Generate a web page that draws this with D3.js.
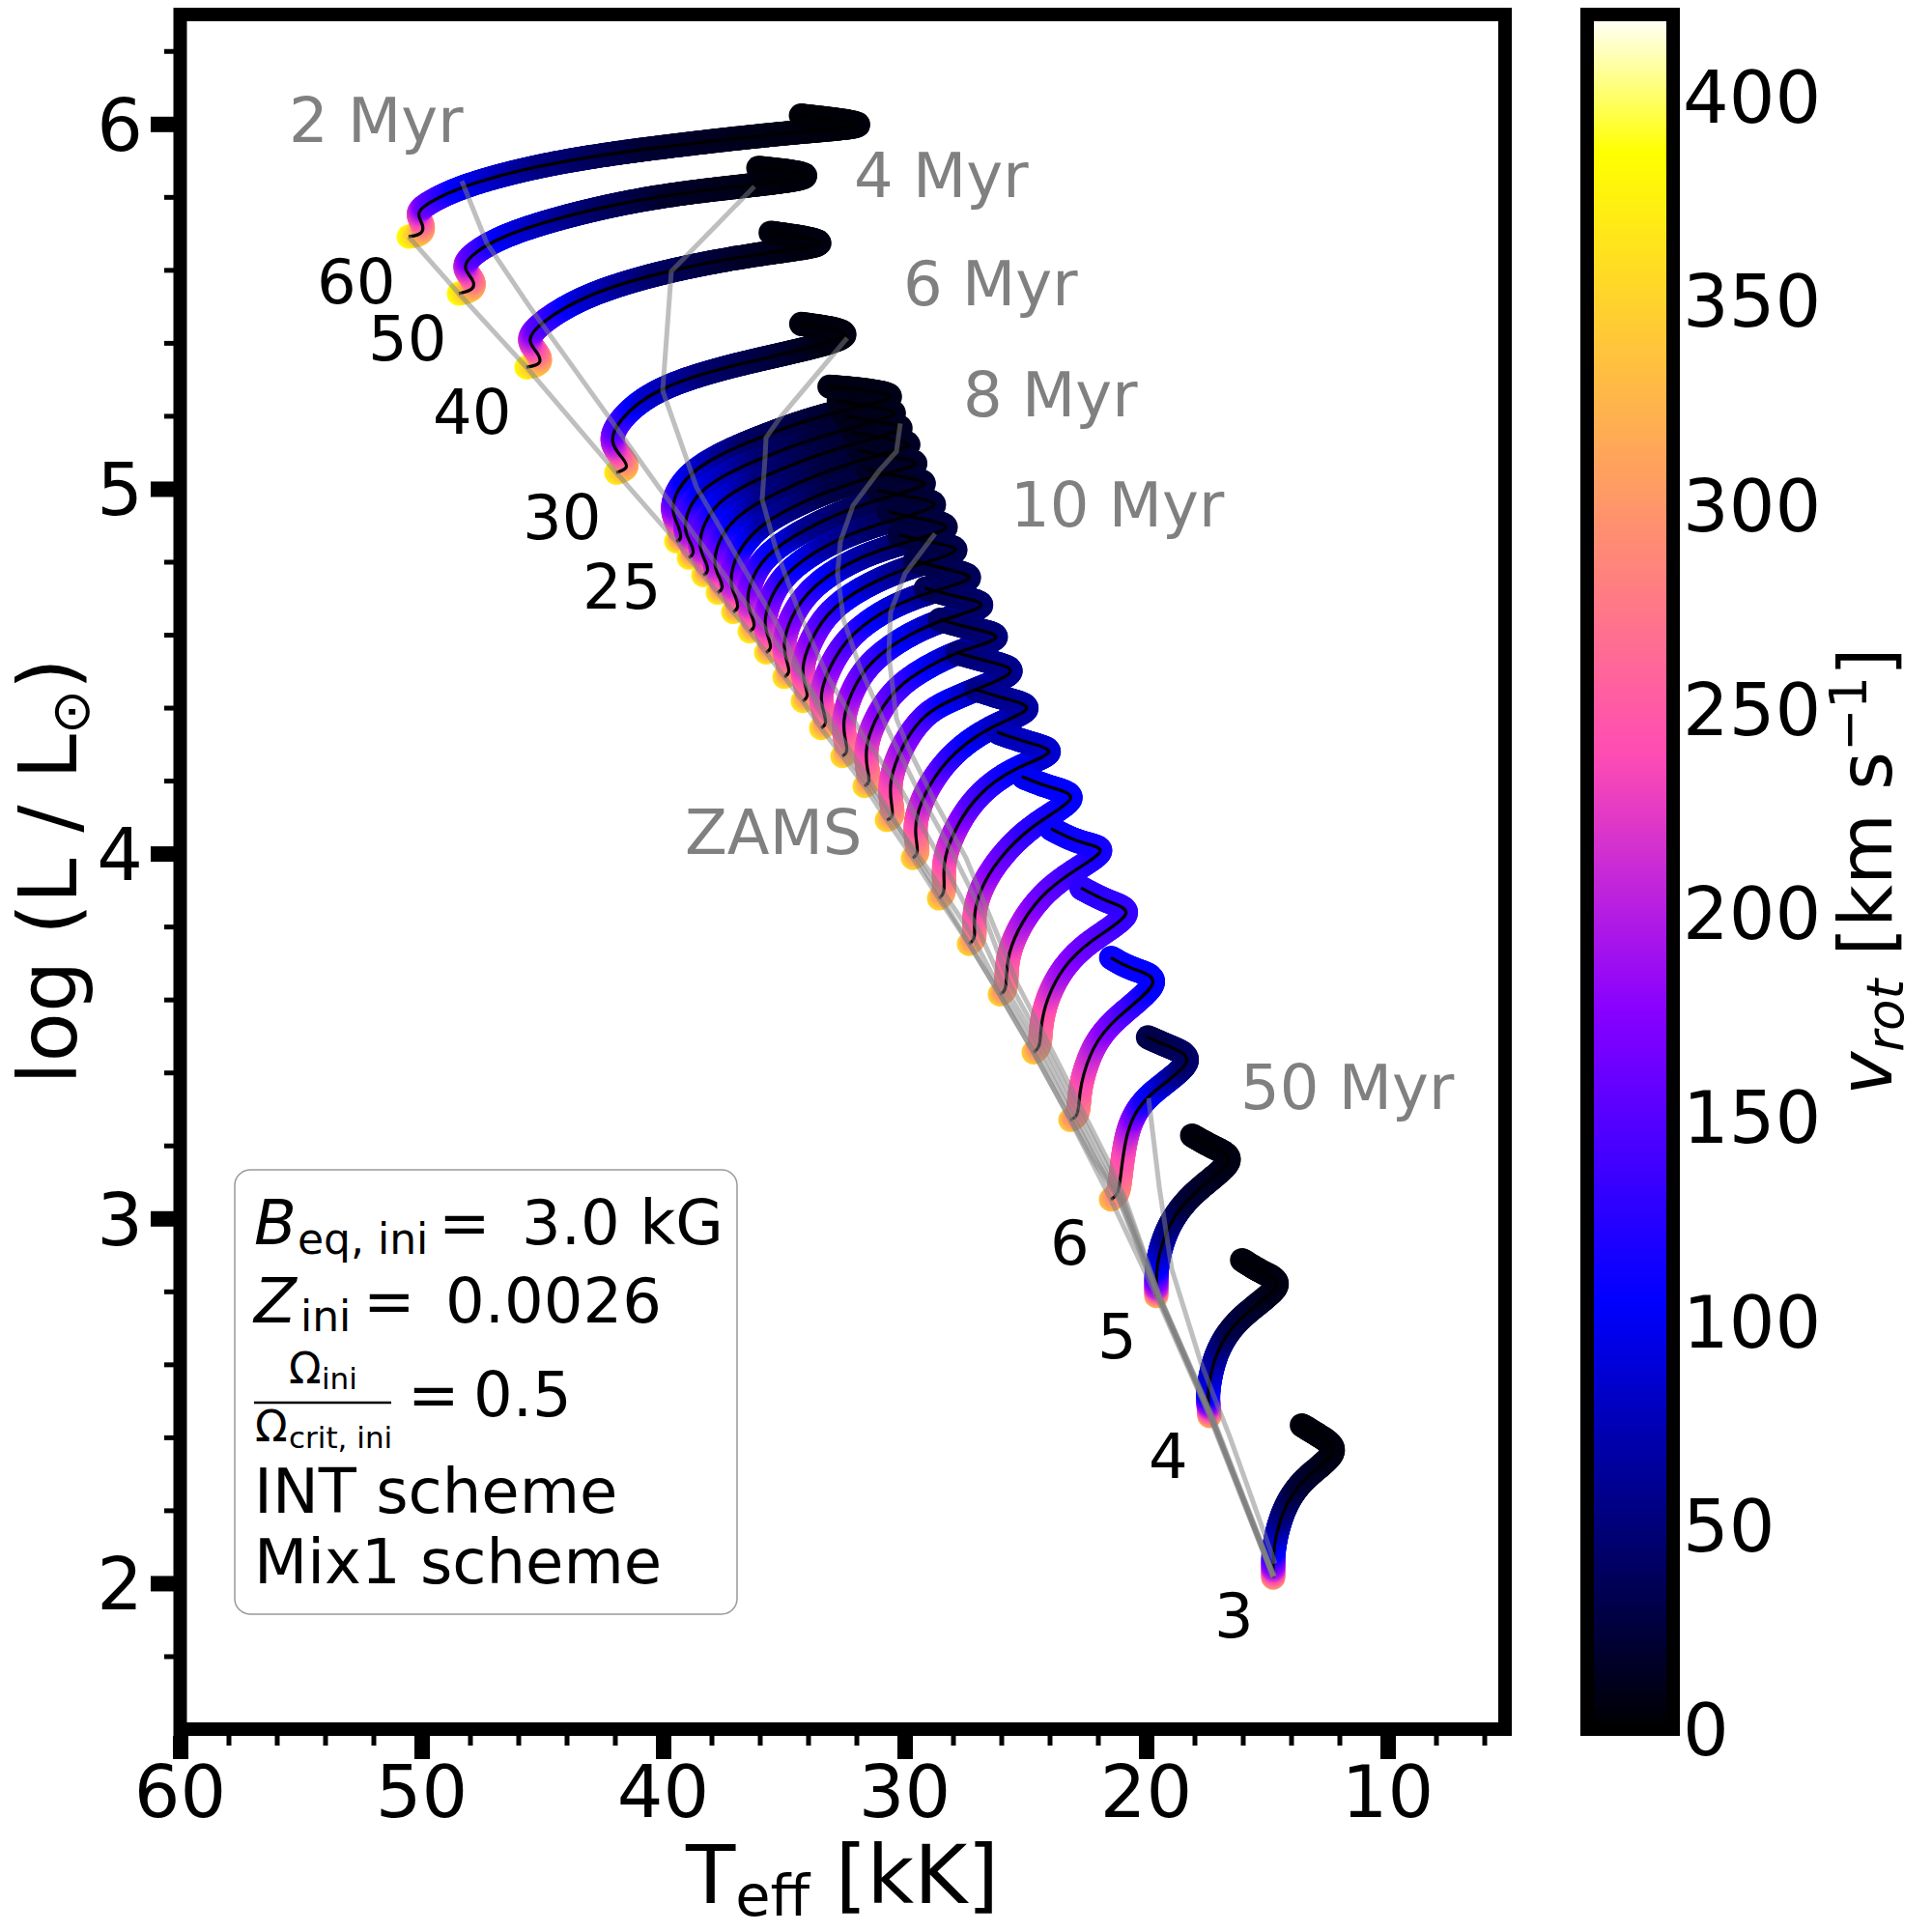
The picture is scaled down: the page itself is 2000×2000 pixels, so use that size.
<!DOCTYPE html>
<html>
<head>
<meta charset="utf-8">
<script src="https://d3js.org/d3.v7.min.js"></script>
<style>
  body { margin: 0; background: #fff; }
  text { font-family: "DejaVu Sans"; }
</style>
</head>
<body>
<div id="chart"></div>
<script>
// evolutionary tracks: teff [kK], log L, vrot [km/s]
const teff60 = [50.54,49.98,49.90,50.24,49.86,48.34,44.50,39.42,34.30,30.72,34.30];
const logL60 = [5.691,5.697,5.721,5.755,5.779,5.832,5.898,5.943,5.980,5.996,6.023];
const vrot60 = [385,335,290,225,160,105,55,22,10,5,3];
const teff50 = [48.46,47.82,47.82,48.34,47.94,46.30,41.94,38.14,32.70,36.10];
const logL50 = [5.535,5.545,5.572,5.606,5.644,5.707,5.784,5.821,5.856,5.880];
const vrot50 = [385,330,285,220,155,100,45,18,6,4];
const teff40 = [45.66,45.02,45.14,45.66,45.26,43.22,39.42,35.58,32.50,35.58];
const logL40 = [5.333,5.341,5.370,5.405,5.447,5.535,5.606,5.649,5.673,5.702];
const vrot40 = [380,330,280,215,155,90,42,18,7,5];
const teff30 = [41.94,41.38,41.70,42.22,41.94,40.42,36.86,31.10,34.30];
const logL30 = [5.044,5.057,5.086,5.126,5.182,5.275,5.346,5.423,5.452];
const vrot30 = [370,325,275,210,150,90,45,8,5];
const teff25 = [39.46,39.22,39.34,39.62,39.58,39.06,37.86,35.98,33.86,31.74,30.06,31.66,33.14];
const logL25 = [4.856,4.861,4.896,4.930,4.975,5.033,5.089,5.142,5.193,5.227,5.254,5.272,5.280];
const vrot25 = [375,325,270,205,155,105,75,42,28,16,10,9,8];
const teff24 = [38.94,38.70,38.82,39.14,39.02,38.26,35.46,32.66,29.70,31.46,32.78];
const logL24 = [4.811,4.821,4.848,4.882,4.943,5.015,5.100,5.161,5.208,5.224,5.243];
const vrot24 = [372,325,270,205,155,100,48,25,12,10,9];
const teff23 = [38.34,38.10,38.22,38.54,38.38,37.66,35.46,32.46,29.46,31.06,32.50];
const logL23 = [4.763,4.773,4.800,4.837,4.900,4.975,5.047,5.121,5.166,5.182,5.200];
const vrot23 = [372,325,272,210,160,105,52,26,14,12,10];
const teff22 = [37.74,37.50,37.62,37.94,37.74,37.06,35.46,32.26,29.10,30.78,32.14];
const logL22 = [4.715,4.726,4.752,4.789,4.856,4.922,4.988,5.076,5.121,5.137,5.155];
const vrot22 = [370,325,275,215,165,110,58,26,16,14,12];
const teff21 = [37.10,36.86,36.98,37.26,37.06,36.46,35.46,32.26,28.78,30.46,31.90];
const logL21 = [4.662,4.673,4.702,4.739,4.808,4.869,4.927,5.023,5.068,5.086,5.105];
const vrot21 = [370,325,275,215,170,115,72,30,19,16,14];
const teff20 = [36.42,36.18,36.30,36.58,36.34,35.66,33.46,31.26,28.50,30.18,31.54];
const logL20 = [4.609,4.620,4.649,4.689,4.757,4.829,4.914,4.970,5.015,5.033,5.052];
const vrot20 = [370,325,275,220,170,120,60,38,22,18,16];
const teff19 = [35.74,35.50,35.62,35.86,35.58,34.78,32.66,30.66,28.10,29.78,31.14];
const logL19 = [4.551,4.561,4.590,4.630,4.704,4.784,4.869,4.912,4.957,4.978,4.996];
const vrot19 = [368,322,275,225,175,125,68,44,25,22,20];
const teff18 = [34.98,34.74,34.86,35.06,34.78,33.86,31.86,29.86,27.66,29.34,30.70];
const logL18 = [4.484,4.495,4.524,4.569,4.643,4.736,4.816,4.856,4.896,4.917,4.938];
const vrot18 = [365,320,280,235,185,135,80,50,28,25,23];
const teff17 = [34.22,33.98,34.10,34.30,33.94,33.06,31.06,29.26,27.30,28.94,30.26];
const logL17 = [4.418,4.429,4.458,4.505,4.582,4.678,4.755,4.797,4.834,4.853,4.874];
const vrot17 = [365,320,280,235,190,140,85,55,32,28,26];
const teff16 = [33.46,33.22,33.34,33.54,33.14,32.26,30.46,28.66,26.78,28.26,29.58];
const logL16 = [4.344,4.354,4.386,4.431,4.511,4.604,4.683,4.723,4.757,4.779,4.803];
const vrot16 = [362,320,280,240,190,145,95,65,38,34,30];
const teff15 = [32.58,32.34,32.46,32.58,32.26,31.46,29.66,28.06,26.26,27.86,29.18];
const logL15 = [4.267,4.277,4.312,4.360,4.439,4.529,4.609,4.649,4.683,4.704,4.728];
const vrot15 = [360,318,280,240,195,150,105,75,45,40,36];
const teff14 = [31.66,31.42,31.54,31.66,31.18,30.26,28.38,27.26,25.70,27.26,28.54];
const logL14 = [4.185,4.195,4.227,4.291,4.378,4.466,4.537,4.564,4.596,4.617,4.641];
const vrot14 = [358,318,280,240,195,150,100,75,52,46,42];
const teff13 = [30.74,30.46,30.54,30.66,30.18,29.18,27.98,26.86,25.06,26.58,27.86];
const logL13 = [4.092,4.100,4.134,4.193,4.291,4.386,4.424,4.455,4.503,4.527,4.551];
const vrot13 = [355,315,280,245,200,150,110,85,60,55,50];
const teff12 = [29.66,29.42,29.54,29.58,29.06,27.98,26.38,24.38,25.86,27.06];
const logL12 = [3.988,3.999,4.041,4.094,4.185,4.280,4.352,4.400,4.424,4.450];
const vrot12 = [352,315,280,245,195,135,95,68,62,58];
const teff11 = [28.58,28.34,28.38,28.38,27.86,26.94,25.46,23.46,24.94,26.18];
const logL11 = [3.877,3.890,3.935,3.988,4.078,4.166,4.237,4.280,4.304,4.333];
const vrot11 = [350,312,280,245,200,150,115,88,80,76];
const teff10 = [27.34,27.10,27.10,27.14,26.78,25.86,24.54,22.58,23.98,25.14];
const logL10 = [3.752,3.763,3.795,3.840,3.919,4.007,4.087,4.158,4.180,4.211];
const vrot10 = [350,310,280,250,205,165,130,108,104,100];
const teff9 = [26.06,25.82,25.78,25.74,25.18,24.14,22.78,21.46,22.78,23.94];
const logL9 = [3.614,3.622,3.662,3.723,3.813,3.901,3.962,4.015,4.028,4.068];
const vrot9 = [348,308,275,250,205,165,140,118,114,110];
const teff8 = [24.66,24.38,24.38,24.14,23.46,22.38,20.30,21.58,22.70];
const logL8 = [3.455,3.469,3.521,3.601,3.689,3.760,3.842,3.866,3.906];
const vrot8 = [345,300,265,240,195,165,135,130,128];
const teff7 = [23.14,22.86,22.78,22.74,22.26,21.34,19.10,20.66,21.46];
const logL7 = [3.270,3.278,3.310,3.363,3.469,3.548,3.657,3.683,3.715];
const vrot7 = [340,300,280,255,215,175,105,108,110];
const teff6 = [21.46,21.14,21.06,20.86,20.54,19.86,17.78,19.06,19.98];
const logL6 = [3.052,3.065,3.118,3.219,3.283,3.344,3.437,3.471,3.498];
const vrot6 = [330,295,270,230,190,120,45,38,30];
const teff5 = [19.58,19.58,19.58,19.18,18.14,16.10,17.18,18.14];
const logL5 = [2.787,2.813,2.872,2.975,3.071,3.163,3.192,3.229];
const vrot5 = [320,210,110,60,25,10,6,5];
const teff4 = [17.38,17.42,17.46,17.18,16.26,14.10,15.18,16.06];
const logL4 = [2.458,2.490,2.524,2.628,2.728,2.821,2.850,2.887];
const vrot4 = [310,200,110,70,30,10,6,4];
const teff3 = [14.74,14.74,14.74,14.38,13.58,11.86,12.78,13.58];
const logL3 = [2.015,2.044,2.097,2.198,2.286,2.362,2.402,2.434];
const vrot3 = [295,200,110,55,25,8,5,4];

// isochrones
const iso2T = [48.34,47.30,45.54,42.46,40.18,36.78,34.14,30.86,29.06,27.46,26.34,24.66,22.18,21.14,19.54,17.34,14.74];
const iso2L = [5.844,5.673,5.500,5.216,5.004,4.704,4.476,4.139,3.941,3.768,3.644,3.455,3.158,3.052,2.789,2.458,2.019];
const iso4T = [36.22,39.66,40.02,38.62,36.78,35.18,33.58,31.86,28.86,27.26,26.18,24.46,22.06,21.10,19.50,17.34,14.74];
const iso4L = [5.829,5.596,5.269,5.004,4.795,4.617,4.397,4.219,3.941,3.781,3.644,3.455,3.158,3.052,2.789,2.458,2.019];
const iso6T = [32.38,35.18,35.74,35.78,35.90,35.34,34.38,33.18,31.74,30.14,28.46,26.98,25.94,24.26,21.94,21.02,19.50,17.30,14.74];
const iso6L = [5.413,5.193,5.140,5.087,4.970,4.837,4.662,4.484,4.325,4.174,3.980,3.795,3.644,3.455,3.158,3.052,2.789,2.458,2.019];
const iso8T = [30.18,30.34,31.06,32.14,32.66,32.78,32.54,31.86,30.78,29.46,28.06,26.66,25.66,24.06,21.74,20.94,19.46,17.30,14.70];
const iso8L = [5.179,5.102,5.049,4.954,4.856,4.768,4.643,4.511,4.352,4.174,4.007,3.821,3.644,3.455,3.158,3.052,2.789,2.458,2.019];
const iso10T = [28.74,29.98,30.58,30.66,30.34,29.86,28.78,27.46,26.38,25.34,23.86,21.58,20.86,19.46,17.26,14.70];
const iso10L = [4.877,4.768,4.662,4.545,4.370,4.291,4.147,3.988,3.813,3.644,3.455,3.158,3.052,2.789,2.458,2.019];
const iso50T = [19.90,19.46,18.94,17.74,16.54,14.66];
const iso50L = [3.330,3.087,2.861,2.606,2.402,2.054];

const xTicks = [60,50,40,30,20,10];
const xMinor = [58,56,54,52,48,46,44,42,38,36,34,32,28,26,24,22,18,16,14,12,8,6];
const yTicks = [2,3,4,5,6];
const yMinor = [1.8,2.2,2.4,2.6,2.8,3.2,3.4,3.6,3.8,4.2,4.4,4.6,4.8,5.2,5.4,5.6,5.8,6.2];
const cbTicks = [0,50,100,150,200,250,300,350,400];

const tracks = [
  [teff60,logL60,vrot60],[teff50,logL50,vrot50],[teff40,logL40,vrot40],[teff30,logL30,vrot30],
  [teff25,logL25,vrot25],[teff24,logL24,vrot24],[teff23,logL23,vrot23],[teff22,logL22,vrot22],
  [teff21,logL21,vrot21],[teff20,logL20,vrot20],[teff19,logL19,vrot19],[teff18,logL18,vrot18],
  [teff17,logL17,vrot17],[teff16,logL16,vrot16],[teff15,logL15,vrot15],[teff14,logL14,vrot14],
  [teff13,logL13,vrot13],[teff12,logL12,vrot12],[teff11,logL11,vrot11],[teff10,logL10,vrot10],
  [teff9,logL9,vrot9],[teff8,logL8,vrot8],[teff7,logL7,vrot7],[teff6,logL6,vrot6],
  [teff5,logL5,vrot5],[teff4,logL4,vrot4],[teff3,logL3,vrot3]
];
const isochrones = [[iso2T,iso2L],[iso4T,iso4L],[iso6T,iso6L],[iso8T,iso8L],[iso10T,iso10L],[iso50T,iso50L]];

const svg = d3.select("#chart").append("svg").attr("width", 2000).attr("height", 2000);

const xScale = d3.scaleLinear().domain([60, 5.14]).range([186.5, 1558]);
const yScale = d3.scaleLinear().domain([1.6, 6.3]).range([1790, 15]);
const cScale = d3.scaleLinear().domain([0, 420]).range([1790, 15]);

// matplotlib gnuplot2
function gnuplot2(v) {
  let t = Math.max(0, Math.min(1, v / 420));
  let clip = a => Math.round(255 * Math.max(0, Math.min(1, a)));
  let b = t < 0.25 ? 4 * t : (t < 0.92 ? -2 * t + 1.84 : t / 0.08 - 11.5);
  return "rgb(" + clip(t / 0.32 - 0.78125) + "," + clip(2 * t - 0.84) + "," + clip(b) + ")";
}

const trackLine = d3.line().curve(d3.curveBasis);

// thick coloured tracks, heavy stars first
const dotsLayer = svg.append("g");
const linesLayer = svg.append("g");

tracks.forEach(tr => {
  let pts = tr[0].map((t, i) => [xScale(t), yScale(tr[1][i])]);
  let path = linesLayer.append("path")
    .attr("d", trackLine(pts))
    .attr("fill", "none")
    .attr("stroke", "black")
    .attr("stroke-width", 3.2);
  let node = path.node();
  let total = node.getTotalLength();

  let chord = [0];
  for (let i = 1; i < pts.length; i++) {
    chord.push(chord[i - 1] + Math.hypot(pts[i][0] - pts[i - 1][0], pts[i][1] - pts[i - 1][1]));
  }
  let vAlong = d3.scaleLinear().domain(chord.map(c => c / chord[chord.length - 1] * total)).range(tr[2]);

  dotsLayer.append("g").selectAll("circle")
    .data(d3.range(0, total, 1.5))
    .enter()
    .append("circle")
    .attr("cx", s => node.getPointAtLength(s).x)
    .attr("cy", s => node.getPointAtLength(s).y)
    .attr("r", 12.5)
    .attr("fill", s => gnuplot2(vAlong(s)));
});

// isochrones + ZAMS
const isoLine = d3.line();
const isoLayer = svg.append("g")
  .attr("fill", "none")
  .attr("stroke", "gray")
  .attr("stroke-opacity", 0.5)
  .attr("stroke-width", 5);
isoLayer.append("path").attr("d", isoLine(tracks.map(tr => [xScale(tr[0][0]), yScale(tr[1][0])])));
isochrones.forEach(iso => {
  isoLayer.append("path").attr("d", isoLine(iso[0].map((t, i) => [xScale(t), yScale(iso[1][i])])));
});

// axes
function styleAxis(g, width) {
  g.select(".domain").remove();
  g.selectAll("line").attr("stroke", "black").attr("stroke-width", width);
}
svg.append("g").attr("transform", "translate(0,1797)")
  .call(d3.axisBottom(xScale).tickValues(xTicks).tickSize(24).tickFormat(""))
  .call(g => styleAxis(g, 16));
svg.append("g").attr("transform", "translate(0,1797)")
  .call(d3.axisBottom(xScale).tickValues(xMinor).tickSize(10).tickFormat(""))
  .call(g => styleAxis(g, 5));
svg.append("g").attr("transform", "translate(180,0)")
  .call(d3.axisLeft(yScale).tickValues(yTicks).tickSize(24).tickFormat(""))
  .call(g => styleAxis(g, 16));
svg.append("g").attr("transform", "translate(180,0)")
  .call(d3.axisLeft(yScale).tickValues(yMinor).tickSize(10).tickFormat(""))
  .call(g => styleAxis(g, 5));

svg.selectAll(".xlab").data(xTicks).enter().append("text")
  .attr("x", d => xScale(d)).attr("y", 1881)
  .attr("text-anchor", "middle").attr("font-size", 75).text(d => d);
svg.selectAll(".ylab").data(yTicks).enter().append("text")
  .attr("x", 148).attr("y", d => yScale(d)).attr("dy", "0.365em")
  .attr("text-anchor", "end").attr("font-size", 75).text(d => d);

svg.append("rect")
  .attr("x", 186.5).attr("y", 15).attr("width", 1371.5).attr("height", 1775)
  .attr("fill", "none").attr("stroke", "black").attr("stroke-width", 14);

// colorbar
svg.append("g").attr("shape-rendering", "crispEdges").selectAll("rect")
  .data(d3.range(0, 420, 0.5))
  .enter().append("rect")
  .attr("x", 1643).attr("width", 89)
  .attr("y", d => cScale(d + 0.5)).attr("height", d => cScale(d) - cScale(d + 0.5) + 2)
  .attr("fill", d => gnuplot2(d));
svg.append("rect")
  .attr("x", 1643).attr("y", 15).attr("width", 89).attr("height", 1775)
  .attr("fill", "none").attr("stroke", "black").attr("stroke-width", 14);
svg.selectAll(".cblab").data(cbTicks).enter().append("text")
  .attr("x", 1742).attr("y", d => cScale(d)).attr("dy", "0.365em")
  .attr("font-size", 75).text(d => d);

// axis titles
let xTitle = svg.append("text").attr("x", 872).attr("y", 1970).attr("text-anchor", "middle").attr("font-size", 84);
xTitle.append("tspan").text("T");
xTitle.append("tspan").attr("dy", 13).attr("font-size", 59).text("eff");
xTitle.append("tspan").attr("dy", -13).text(" [kK]");

let yTitle = svg.append("text").attr("transform", "translate(79,902) rotate(-90)").attr("text-anchor", "middle").attr("font-size", 84);
yTitle.append("tspan").text("log (L / L");
yTitle.append("tspan").attr("dy", 13).attr("font-size", 55).text("\u2299");
yTitle.append("tspan").attr("dy", -13).text(")");

let cTitle = svg.append("text").attr("transform", "translate(1958,902) rotate(-90)").attr("text-anchor", "middle").attr("font-size", 76);
cTitle.append("tspan").attr("font-style", "italic").text("v");
cTitle.append("tspan").attr("dy", 12).attr("font-size", 53).attr("font-style", "italic").text("rot");
cTitle.append("tspan").attr("dy", -12).text(" [km s");
cTitle.append("tspan").attr("dy", -26).attr("font-size", 53).text("\u22121");
cTitle.append("tspan").attr("dy", 26).text("]");

// annotations
const ageNames = ["2 Myr","4 Myr","6 Myr","8 Myr","10 Myr","50 Myr","ZAMS"];
const ageX = [299,884,935,997,1046,1284,709];
const ageY = [147,204,316,431,545,1148,884];
const massNames = ["60","50","40","30","25","6","5","4","3"];
const massX = [328,381,448,541,603,1087,1136,1189,1257];
const massY = [314,373,449,558,630,1309,1406,1530,1695];

ageNames.forEach((n, i) => {
  svg.append("text").attr("x", ageX[i]).attr("y", ageY[i]).attr("font-size", 64).attr("fill", "gray").text(n);
});
massNames.forEach((n, i) => {
  svg.append("text").attr("x", massX[i]).attr("y", massY[i]).attr("font-size", 64).attr("fill", "black").text(n);
});

// info box
svg.append("rect")
  .attr("x", 243).attr("y", 1211).attr("width", 520).attr("height", 460).attr("rx", 16)
  .attr("fill", "white").attr("stroke", "#999").attr("stroke-width", 1.5);

function put(x, y, size, str, italic) {
  svg.append("text").attr("x", x).attr("y", y).attr("font-size", size)
    .attr("font-style", italic ? "italic" : "normal").text(str);
}
put(263, 1288, 64, "B", true);
put(308, 1298, 44, "eq, ini");
put(454, 1288, 64, "=");
put(540, 1288, 64, "3.0 kG");
put(263, 1369, 64, "Z", true);
put(311, 1378, 44, "ini");
put(376, 1369, 64, "=");
put(461, 1369, 64, "0.0026");
put(299, 1432, 44, "\u03a9");
put(333, 1438, 31, "ini");
svg.append("line").attr("x1", 263).attr("x2", 405).attr("y1", 1452).attr("y2", 1452).attr("stroke", "black").attr("stroke-width", 2.5);
put(264, 1492, 44, "\u03a9");
put(299, 1499, 31, "crit, ini");
put(422, 1466, 64, "=");
put(490, 1466, 64, "0.5");
put(263, 1566, 64, "INT scheme");
put(263, 1639, 64, "Mix1 scheme");
</script>
</body>
</html>
